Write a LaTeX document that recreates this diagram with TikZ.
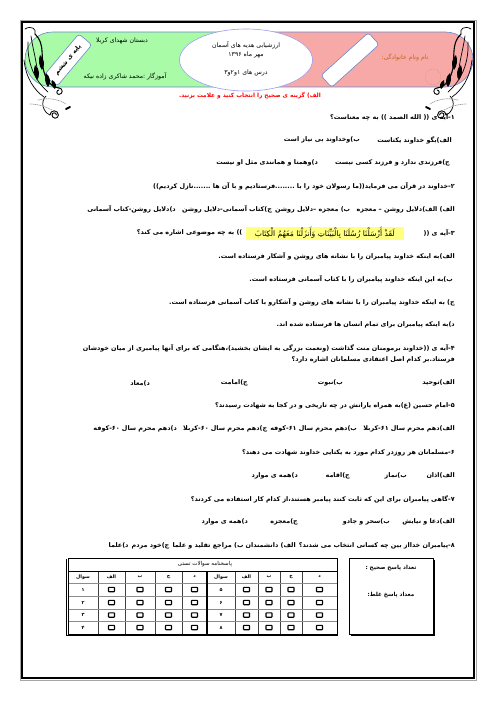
\documentclass[tikz,border=0pt]{standalone}
\usepackage{fontspec}
\TeXXeTstate=1
\newfontfamily\ar[Script=Arabic]{DejaVu Sans}
\usetikzlibrary{shapes.geometric}
\definecolor{bandgreen}{HTML}{AAFBA8}
\definecolor{bandpink}{HTML}{F7A9A8}
\definecolor{bandline}{HTML}{6A86C8}
\definecolor{ellline}{HTML}{9C9CF0}
\definecolor{namecol}{HTML}{C0651A}
\definecolor{hiyellow}{HTML}{FFFF80}
\newcommand\rtltext[1]{\beginR #1\endR}
\newcommand\myornament{%
  \draw[orn] (25,29) .. controls (31,25) and (37,29) .. (35,34);
  \draw[orn, line width=1.1pt] (35,34) .. controls (46,44) and (40,60) .. (44,72) .. controls (47,82) and (53,88) .. (59,88);
  \draw[orn, line width=0.9pt] (59,88) arc[start angle=270, end angle=450, radius=3.2] arc[start angle=90, end angle=270, radius=2.2];
  \draw[orn] (28,42) .. controls (27,62) and (34,80) .. (48,92);
  \draw[orn] (24,60) .. controls (26,78) and (34,90) .. (44,97);
  \draw[orn] (31,36) .. controls (33,50) and (37,62) .. (38,78);
  \fill (40,55) .. controls (45,59) and (45,66) .. (42,70) .. controls (39,66) and (38,60) .. (40,55);
  \fill (35,65) .. controls (40,69) and (40,76) .. (37,80) .. controls (34,76) and (33,70) .. (35,65);
  \fill (46,73) .. controls (51,77) and (51,84) .. (48,87) .. controls (45,83) and (44,78) .. (46,73);
  \fill (52,80) .. controls (56,82) and (57,86) .. (55,89) .. controls (52,87) and (51,84) .. (52,80);
  \draw[orn] (46,96) .. controls (40,102) and (43,112) .. (50,115);
  \draw[orn, line width=0.9pt] (50,115) arc[start angle=180, end angle=360, radius=4.2] arc[start angle=0, end angle=180, radius=3.2] arc[start angle=180, end angle=360, radius=2.2];
  \draw[line width=1.8pt, line cap=round] (66,109) -- (70,107);
  \draw[orn, black!40, densely dotted] (38,100) .. controls (50,97) and (60,100) .. (66,104);
  \draw[orn, black!40, densely dotted] (30,104) .. controls (40,104) and (48,108) .. (52,110);
}
\begin{document}
\begin{tikzpicture}[x=1pt,y=-1pt,
  orn/.style={line width=0.7pt, line cap=round},
  txt/.style={inner sep=0pt, font=\ar\bfseries\fontsize{6.4}{8}\selectfont},
  qline/.style={txt, anchor=east},
  hdr/.style={inner sep=0pt, font=\ar\fontsize{6.2}{8}\selectfont},
  cell/.style={inner sep=0pt, font=\ar\bfseries\fontsize{4.8}{6}\selectfont},
  chk/.style={draw, line width=1.1pt, rounded corners=0.5pt, minimum width=6pt, minimum height=4.4pt, inner sep=0pt},
]
\useasboundingbox (0,0) rectangle (496,702);
\fill[white] (0,0) rectangle (496,702);
% page frame
\draw[black!35, line width=1pt] (20,20) rectangle (476,680);
\draw[line width=1.6pt] (22,22) rectangle (474,678);
% header band
\begin{scope}
  \clip[rounded corners=27.5pt] (25,32) rectangle (473,87);
  \fill[bandgreen] (25,32) rectangle (246,87);
  \fill[bandpink] (246,32) rectangle (473,87);
\end{scope}
\draw[bandline, line width=0.6pt, rounded corners=27.5pt] (25,32) rectangle (473,87);
\node[ellipse, draw=ellline, line width=0.6pt, fill=white, minimum width=133pt, minimum height=62pt, inner sep=0pt] (ell) at (246,60) {};
\node[hdr] (t1) at (246,45) {\rtltext{ارزشیابی هدیه های آسمان}};
\node[hdr] (t2) at (246,55) {\rtltext{مهر ماه ۱۳۹۶}};
\node[hdr] (t3) at (246,73) {\rtltext{درس های ۱و۲و۳}};
\node[hdr] (school) at (122,41) {\rtltext{دبستان شهدای کربلا}};
\node[hdr] (teacher) at (125,76) {\rtltext{آموزگار :محمد شاکری زاده نیکه}};
\node[hdr, text=namecol] (name) at (405,57) {\rtltext{نام ونام خانوادگی:}};
\node[draw=bandline, line width=0.6pt, fill=white, rounded corners=3pt, minimum width=54pt, minimum height=17pt, inner sep=0pt, rotate=50, font=\ar\bfseries\fontsize{6.2}{8}\selectfont] (grade) at (68,60) {\rtltext{پایه ی ششم}};
\node[draw=bandline, line width=0.6pt, fill=white, rounded corners=3pt, minimum width=64pt, minimum height=16pt, inner sep=0pt, rotate=42] (namebox) at (350,60) {};
% ornaments
\myornament
\begin{scope}[xshift=496pt, xscale=-1]
  \myornament
\end{scope}
\draw[namecol!70, densely dotted, line width=0.5pt] (433,77) circle (8);
% instruction
\node[txt, text=red, font=\ar\bfseries\fontsize{5.8}{7}\selectfont] (inst) at (250,96) {\rtltext{الف) گزینه ی صحیح را انتخاب کنید و علامت بزنید.}};
% questions
\node[qline] (q1) at (455,117) {\rtltext{۱-آیه ی (( الله الصمد )) به چه معناست؟}};
\node[qline] (q1a) at (452,140) {\rtltext{الف)بگو خداوند یکتاست}};
\node[qline] (q1b) at (360,140) {\rtltext{ب)وخداوند بی نیاز است}};
\node[qline] (q1c) at (450,163) {\rtltext{ج)فرزندی ندارد و فرزند کسی نیست}};
\node[qline] (q1d) at (318,163) {\rtltext{د)وهمتا و همانندی مثل او نیست}};
\node[qline] (q2) at (455,186) {\rtltext{۲-خداوند در قرآن می فرماید((ما رسولان خود را با ........فرستادیم و با آن ها .......نازل کردیم))}};
\node[qline] (q2o) at (455,209) {\rtltext{الف) الف)دلایل روشن – معجزه\quad ب) معجزه –دلایل روشن\enspace ج)کتاب آسمانی-دلایل روشن\quad د)دلایل روشن-کتاب آسمانی}};
\node[qline] (q3) at (455,233) {\rtltext{۳-آیه ی ((}};
\node[qline, fill=hiyellow, inner sep=0pt, minimum width=158pt, minimum height=13pt, font=\ar\fontsize{7.6}{8}\selectfont] (verse) at (404,233) {\rtltext{لَقَدْ أَرْسَلْنَا رُسُلَنَا بِالْبَیِّنَاتِ وَأَنزَلْنَا مَعَهُمُ الْکِتَابَ}};
\node[qline] (q3t) at ([xshift=-3pt]verse.west) {\rtltext{)) به چه موضوعی اشاره می کند؟}};
\node[qline] (q3a) at (455,256) {\rtltext{الف)به اینکه خداوند پیامبران را با نشانه های روشن و آشکار فرستاده است.}};
\node[qline] (q3b) at (453,279) {\rtltext{ب)به این اینکه خداوند پیامبران را با کتاب آسمانی فرستاده است.}};
\node[qline] (q3c) at (455,302) {\rtltext{ج) به اینکه خداوند پیامبران را با نشانه های روشن و آشکارو با کتاب آسمانی فرستاده است.}};
\node[qline] (q3d) at (455,325) {\rtltext{د)به اینکه پیامبران برای تمام انسان ها فرستاده شده اند.}};
\node[qline] (q4) at (455,348) {\rtltext{۴-آیه ی ((خداوند برمومنان منت گذاشت (ونعمت بزرگی به ایشان بخشید)،هنگامی که برای آنها پیامبری از میان خودشان}};
\node[qline] (q4b) at (455,360) {\rtltext{فرستاد.بر کدام اصل اعتقادی مسلمانان اشاره دارد؟}};
\node[qline] (q4a) at (455,383) {\rtltext{الف)توحید}};
\node[qline] (q4bb) at (343,383) {\rtltext{ب)نبوت}};
\node[qline] (q4c) at (248,383) {\rtltext{ج)امامت}};
\node[qline] (q4d) at (150,383) {\rtltext{د)معاد}};
\node[qline] (q5) at (455,406) {\rtltext{۵-امام حسین (ع)به همراه یارانش در چه تاریخی و در کجا به شهادت رسیدند؟}};
\node[qline] (q5o) at (455,429) {\rtltext{الف)دهم محرم سال ۶۱-کربلا\quad ب)دهم محرم سال ۶۱-کوفه\enspace ج)دهم محرم سال ۶۰-کربلا\quad د)دهم محرم سال ۶۰-کوفه}};
\node[qline] (q6) at (455,453) {\rtltext{۶-مسلمانان هر روزدر کدام مورد به یکتایی خداوند شهادت می دهند؟}};
\node[qline] (q6a) at (455,476) {\rtltext{الف)اذان}};
\node[qline] (q6b) at (407,476) {\rtltext{ب)نماز}};
\node[qline] (q6c) at (350,476) {\rtltext{ج)اقامه}};
\node[qline] (q6d) at (298,476) {\rtltext{د)همه ی موارد}};
\node[qline] (q7) at (455,499) {\rtltext{۷-گاهی پیامبران برای این که ثابت کنند پیامبر هستند،از کدام کار استفاده می کردند؟}};
\node[qline] (q7a) at (455,522) {\rtltext{الف)دعا و نیایش}};
\node[qline] (q7b) at (390,522) {\rtltext{ب)سحر و جادو}};
\node[qline] (q7c) at (298,522) {\rtltext{ج)معجزه}};
\node[qline] (q7d) at (248,522) {\rtltext{د)همه ی موارد}};
\node[qline] (q8) at (455,546) {\rtltext{۸-پیامبران خدااز بین چه کسانی انتخاب می شدند؟\enspace الف) دانشمندان ب) مراجع تقلید و علما\enspace ج)خود مردم\enspace د)علما}};
% answer table
\foreach \x in {98,125,155,182,235,258,280,302}
  \draw[black!75, line width=0.5pt] (\x,571) -- (\x,634);
\foreach \y in {583,596,609,621}
  \draw[black!45, line width=0.6pt] (68,\y) -- (337,\y);
\draw[line width=0.9pt] (68,571) -- (337,571);
\draw[line width=1.4pt] (207,571) -- (207,634);
\draw[line width=1pt] (68,558) rectangle (337,634);
\draw[line width=1pt] (66.5,559) -- (66.5,635.5) -- (337.5,635.5);
\node[cell, font=\ar\fontsize{5.5}{6}\selectfont] (ttl) at (205,564.5) {\rtltext{پاسخنامه سوالات تستی}};
\foreach \cx/\lab [count=\i] in {83/سوال,111.5/الف,140/ب,168.5/ج,194.5/د,221/سوال,246.5/الف,269/ب,291/ج,319.5/د}
  \node[cell] (h\i) at (\cx,577) {\rtltext{\lab}};
\foreach \ry/\na/\nb [count=\r] in {589.5/۱/۵,602.5/۲/۶,615/۳/۷,627.5/۴/۸} {
  \node[cell] (na\r) at (83,\ry) {\na};
  \node[cell] (nb\r) at (221,\ry) {\nb};
  \foreach \cx [count=\c] in {111.5,140,168.5,194.5,246.5,269,291,319.5}
    \node[chk] (b\r-\c) at (\cx,\ry) {};
}
% score box
\draw[line width=0.9pt] (349,558) rectangle (433,634);
\draw[line width=0.9pt] (434.5,559.5) -- (434.5,635.5) -- (350.5,635.5);
\node[cell, font=\ar\bfseries\fontsize{5.6}{6}\selectfont] (ok) at (391,568) {\rtltext{تعداد پاسخ صحیح :}};
\node[cell, font=\ar\bfseries\fontsize{5.6}{6}\selectfont] (bad) at (391,595) {\rtltext{معداد پاسخ غلط:}};
\end{tikzpicture}
\end{document}
